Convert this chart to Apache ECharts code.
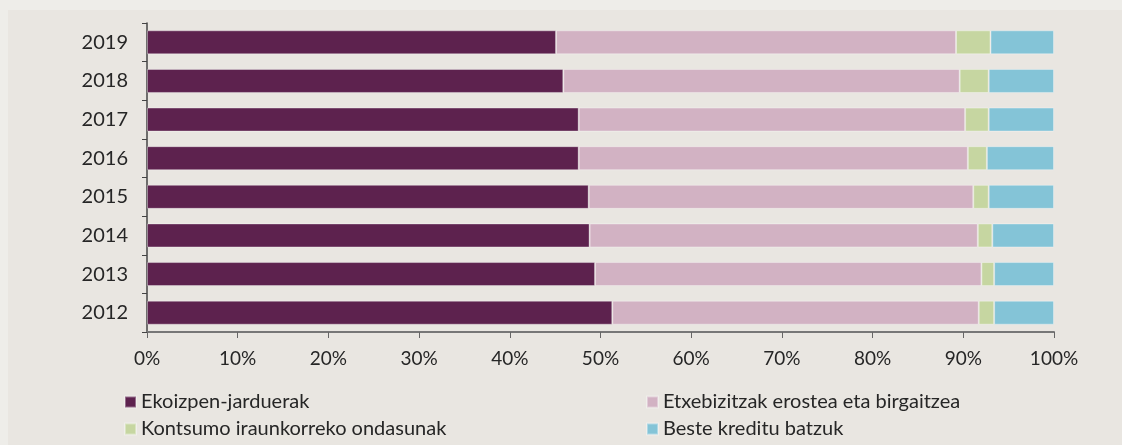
<!DOCTYPE html>
<html>
<head>
<meta charset="utf-8">
<script src="https://cdn.jsdelivr.net/npm/echarts@6/dist/echarts.min.js"></script>
<style>
  html, body { margin: 0; padding: 0; background: #eeede9; }
  #credit_chart { position: absolute; left: 8px; top: 10px; width: 1114px; height: 435px; }
</style>
</head>
<body>
<div id="credit_chart"></div>
<script>
// urteak (behetik gora)
var years = ['2012', '2013', '2014', '2015', '2016', '2017', '2018', '2019'];

// serieak [%]
var ekoizpen   = [51.3, 49.4, 48.8, 48.7, 47.6, 47.6, 45.9, 45.1];
var etxebizitz = [40.4, 42.6, 42.8, 42.4, 42.9, 42.6, 43.7, 44.1];
var kontsumo   = [1.7, 1.4, 1.6, 1.7, 2.1, 2.6, 3.2, 3.8];
var besteak    = [6.6, 6.6, 6.8, 7.2, 7.4, 7.2, 7.2, 7.0];

var seriesNames = ['Ekoizpen-jarduerak', 'Etxebizitzak erostea eta birgaitzea',
                   'Kontsumo iraunkorreko ondasunak', 'Beste kreditu batzuk'];
var seriesColors = ['#5d224e', '#d2b2c3', '#c6d6a1', '#84c4d7'];

var credit_chart = echarts.init(document.getElementById('credit_chart'));

function makeBar(idx, values) {
	return {
		name: seriesNames[idx],
		type: 'bar',
		stack: 'guztira',
		barWidth: 24,
		data: values,
		itemStyle: {
			color: seriesColors[idx],
			borderColor: 'rgba(255,255,255,0.35)',
			borderWidth: 1
		}
	};
}

var fontFam = 'Lato, "Open Sans", sans-serif';

// legenda bat elementu bakoitzeko (2x2 sareta)
function makeLegend(name, left, top) {
	return {
		orient: 'horizontal',
		left: left,
		top: top,
		padding: 0,
		itemWidth: 11,
		itemHeight: 11,
		itemGap: 0,
		itemTextGap: 5,
		icon: 'rect',
		data: [name],
		textStyle: { fontSize: 20, color: '#262626', fontFamily: fontFam }
	};
}

var option = {
	backgroundColor: '#e9e6e1',
	animation: false,
	textStyle: { fontFamily: fontFam },
	grid: { left: 139, right: 68, top: 13, bottom: 113 },
	legend: [
		makeLegend(seriesNames[0], 116, 382),
		makeLegend(seriesNames[2], 116, 409),
		makeLegend(seriesNames[1], 638, 382),
		makeLegend(seriesNames[3], 638, 409)
	],
	xAxis: {
		type: 'value',
		min: 0,
		max: 100,
		interval: 10,
		axisLine: { show: true, lineStyle: { color: '#777', width: 2 } },
		axisTick: { show: true, length: 6, lineStyle: { color: '#666' } },
		splitLine: { show: false },
		axisLabel: { formatter: '{value}%', fontSize: 19, color: '#262626', margin: 17, fontFamily: fontFam }
	},
	yAxis: {
		type: 'category',
		data: years,
		axisLine: { show: true, lineStyle: { color: '#444', width: 1.5 } },
		axisTick: { show: true, length: 5, lineStyle: { color: '#444' } },
		axisLabel: { fontSize: 20, color: '#262626', margin: 19, fontFamily: fontFam }
	},
	series: [
		makeBar(0, ekoizpen),
		makeBar(1, etxebizitz),
		makeBar(2, kontsumo),
		makeBar(3, besteak)
	]
};

credit_chart.setOption(option);
</script>
</body>
</html>
